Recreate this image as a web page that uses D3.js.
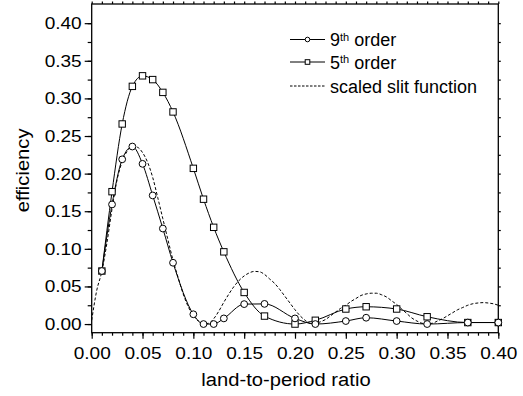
<!DOCTYPE html>
<html>
<head>
<meta charset="utf-8">
<script src="https://cdn.jsdelivr.net/npm/d3@7"></script>
<style>
  html, body { margin: 0; padding: 0; background: #fff; }
  svg { display: block; font-family: "Liberation Sans", Arial, sans-serif; }
</style>
</head>
<body>
<div id="chart"></div>
<script>
// ---------------------------------------------------------------------------
// Data
// ---------------------------------------------------------------------------
const ratio = [0.01, 0.02, 0.03, 0.04, 0.05, 0.06, 0.07, 0.08, 0.10, 0.11, 0.12,
               0.13, 0.15, 0.17, 0.20, 0.22, 0.25, 0.27, 0.30, 0.33, 0.37, 0.40];
const ninthOrder = [0.0705, 0.159, 0.219, 0.236, 0.213, 0.171, 0.127, 0.0815, 0.013, 0.0, 0.0,
                    0.0075, 0.0265, 0.0268, 0.0075, 0.0, 0.004, 0.0084, 0.004, 0.0, 0.002, 0.002];
const fifthOrder = [0.0705, 0.176, 0.266, 0.316, 0.330, 0.325, 0.308, 0.282, 0.207, 0.166, 0.1286,
                    0.096, 0.042, 0.0106, 0.0, 0.005, 0.020, 0.023, 0.020, 0.0097, 0.002, 0.002];

const slitRatio = [0, 0.005, 0.01, 0.015, 0.02, 0.025, 0.03, 0.035, 0.04, 0.045, 0.05, 0.055,
                   0.06, 0.065, 0.07, 0.075, 0.08, 0.085, 0.09, 0.095, 0.10, 0.105, 0.11, 0.115,
                   0.12, 0.125, 0.13, 0.135, 0.14, 0.145, 0.15, 0.155, 0.16, 0.165, 0.17, 0.175,
                   0.18, 0.185, 0.19, 0.195, 0.20, 0.205, 0.21, 0.215, 0.22, 0.225, 0.23, 0.235,
                   0.24, 0.245, 0.25, 0.255, 0.26, 0.265, 0.27, 0.275, 0.28, 0.285, 0.29, 0.295,
                   0.30, 0.305, 0.31, 0.315, 0.32, 0.325, 0.33, 0.335, 0.34, 0.345, 0.35, 0.355,
                   0.36, 0.365, 0.37, 0.375, 0.38, 0.385, 0.39, 0.395, 0.40];
const slitFunction = [0.005, 0.045, 0.07, 0.108, 0.153, 0.192, 0.216, 0.23, 0.236, 0.235, 0.228, 0.215,
                      0.195, 0.168, 0.140, 0.112, 0.085, 0.062, 0.040, 0.023, 0.011, 0.004, 0.0005, 0.001,
                      0.007, 0.017, 0.029, 0.040, 0.050, 0.058, 0.064, 0.068, 0.070, 0.0695, 0.066, 0.060,
                      0.054, 0.046, 0.037, 0.028, 0.019, 0.011, 0.005, 0.001, 0.001, 0.003, 0.006, 0.011,
                      0.016, 0.021, 0.025, 0.030, 0.034, 0.038, 0.040, 0.041, 0.041, 0.039, 0.036, 0.031,
                      0.026, 0.020, 0.014, 0.008, 0.004, 0.001, 0.0005, 0.001, 0.004, 0.007, 0.011, 0.015,
                      0.019, 0.022, 0.025, 0.027, 0.028, 0.0285, 0.028, 0.027, 0.025];

const xMajorTicks = [0, 0.05, 0.10, 0.15, 0.20, 0.25, 0.30, 0.35, 0.40];
const yMajorTicks = [0, 0.05, 0.10, 0.15, 0.20, 0.25, 0.30, 0.35, 0.40];
const xMinorTicks = d3.range(0, 41).map(i => i / 100);
const yMinorTicks = d3.range(0, 17).map(i => i * 0.025);

const xTitle = 'land-to-period ratio';
const yTitle = 'efficiency';

// ---------------------------------------------------------------------------
// Layout
// ---------------------------------------------------------------------------
const W = 523, H = 396;
const margin = { top: 4, right: 24.7, bottom: 63.3, left: 91.7 };
const width = W - margin.left - margin.right;
const height = H - margin.top - margin.bottom;
const TEXT_WIDEN = 1.12;   // the reference font runs wider than Arial

const svg = d3.select('#chart').append('svg')
  .attr('width', W).attr('height', H);

svg.append('rect').attr('width', W).attr('height', H).attr('fill', '#fff');

const g = svg.append('g').attr('transform', `translate(${margin.left},${margin.top})`);

const x = d3.scaleLinear().domain([0, 0.40]).range([0, width]);
const y = d3.scaleLinear().domain([-0.0115, 0.4255]).range([height, 0]);

function widen(sel, k) {
  sel.each(function () {
    const w = this.getComputedTextLength();
    d3.select(this).attr('textLength', w * k).attr('lengthAdjust', 'spacingAndGlyphs');
  });
}

function styleAxis(sel) {
  sel.select('.domain').remove();
  sel.selectAll('line').attr('stroke', '#000').attr('stroke-width', 1.2);
  sel.selectAll('text').attr('fill', '#000');
}

// Minor ticks
g.append('g').attr('transform', `translate(0,${height})`)
  .call(d3.axisBottom(x).tickValues(xMinorTicks).tickSize(3).tickFormat(''))
  .call(styleAxis);
g.append('g')
  .call(d3.axisLeft(y).tickValues(yMinorTicks).tickSize(4).tickFormat(''))
  .call(styleAxis);
g.append('g')
  .call(d3.axisTop(x).tickValues(xMinorTicks).tickSize(2.5).tickFormat(''))
  .call(styleAxis);
g.append('g').attr('transform', `translate(${width},0)`)
  .call(d3.axisRight(y).tickValues(yMinorTicks).tickSize(2.5).tickFormat(''))
  .call(styleAxis);

// Major ticks + labels
const xAxis = g.append('g').attr('transform', `translate(0,${height})`)
  .call(d3.axisBottom(x).tickValues(xMajorTicks).tickSize(6).tickPadding(8)
    .tickFormat(d3.format('.2f')))
  .call(styleAxis);
xAxis.selectAll('text').attr('font-size', '17px').attr('font-family', null);

const yAxis = g.append('g')
  .call(d3.axisLeft(y).tickValues(yMajorTicks).tickSize(7).tickPadding(3)
    .tickFormat(d3.format('.2f')))
  .call(styleAxis);
yAxis.selectAll('text').attr('font-size', '17px').attr('font-family', null);

// Frame
g.append('rect')
  .attr('width', width).attr('height', height)
  .attr('fill', 'none').attr('stroke', '#000').attr('stroke-width', 1.3);

// Axis titles
svg.append('text')
  .attr('class', 'x-title')
  .attr('x', margin.left + width / 2 - 9)
  .attr('y', 386)
  .attr('text-anchor', 'middle')
  .attr('font-size', '18px')
  .text(xTitle);

svg.append('text')
  .attr('class', 'y-title')
  .attr('transform', `translate(29,${margin.top + height / 2 + 2}) rotate(-90)`)
  .attr('text-anchor', 'middle')
  .attr('font-size', '18px')
  .text(yTitle);

// ---------------------------------------------------------------------------
// Series
// ---------------------------------------------------------------------------
const line = d3.line()
  .x(d => x(d[0]))
  .y(d => y(d[1]))
  .curve(d3.curveMonotoneX);

const slitPts = slitRatio.map((r, i) => [r, slitFunction[i]]);
const ninthPts = ratio.map((r, i) => [r, ninthOrder[i]]);
const fifthPts = ratio.map((r, i) => [r, fifthOrder[i]]);

g.append('path').datum(slitPts)
  .attr('d', line)
  .attr('fill', 'none').attr('stroke', '#000').attr('stroke-width', 1)
  .attr('stroke-dasharray', '3,2');

g.append('path').datum(fifthPts)
  .attr('d', line)
  .attr('fill', 'none').attr('stroke', '#000').attr('stroke-width', 1);

g.append('path').datum(ninthPts)
  .attr('d', line)
  .attr('fill', 'none').attr('stroke', '#000').attr('stroke-width', 1);

const sq = 6.4;
g.selectAll('.sq-point')
  .data(fifthPts)
  .join('rect')
  .attr('class', 'sq-point')
  .attr('x', d => x(d[0]) - sq / 2)
  .attr('y', d => y(d[1]) - sq / 2)
  .attr('width', sq).attr('height', sq)
  .attr('fill', '#fff').attr('stroke', '#000').attr('stroke-width', 1);

g.selectAll('.circ-point')
  .data(ninthPts)
  .join('circle')
  .attr('class', 'circ-point')
  .attr('cx', d => x(d[0]))
  .attr('cy', d => y(d[1]))
  .attr('r', 3.4)
  .attr('fill', '#fff').attr('stroke', '#000').attr('stroke-width', 1);

// ---------------------------------------------------------------------------
// Legend
// ---------------------------------------------------------------------------
const legend = svg.append('g').attr('transform', 'translate(290,0)');
const rowY = [39.5, 62, 86];

function legendText(row) {
  return legend.append('text')
    .attr('x', 40).attr('y', rowY[row] + 6.5)
    .attr('font-size', '18px');
}

// 9th order
legend.append('line').attr('x1', 0).attr('x2', 35).attr('y1', rowY[0]).attr('y2', rowY[0])
  .attr('stroke', '#000');
legend.append('circle').attr('cx', 17.5).attr('cy', rowY[0]).attr('r', 2.3)
  .attr('fill', '#fff').attr('stroke', '#000');
let t = legendText(0);
t.append('tspan').text('9');
t.append('tspan').attr('font-size', '11px').attr('dy', -5.5).text('th');
t.append('tspan').attr('dy', 5.5).text(' order');

// 5th order
legend.append('line').attr('x1', 0).attr('x2', 35).attr('y1', rowY[1]).attr('y2', rowY[1])
  .attr('stroke', '#000');
legend.append('rect').attr('x', 17.5 - 2.3).attr('y', rowY[1] - 2.3).attr('width', 4.6).attr('height', 4.6)
  .attr('fill', '#fff').attr('stroke', '#000');
t = legendText(1);
t.append('tspan').text('5');
t.append('tspan').attr('font-size', '11px').attr('dy', -5.5).text('th');
t.append('tspan').attr('dy', 5.5).text(' order');

// scaled slit function
legend.append('line').attr('x1', 0).attr('x2', 35).attr('y1', rowY[2]).attr('y2', rowY[2])
  .attr('stroke', '#000').attr('stroke-dasharray', '2.5,1.5');
legendText(2).text('scaled slit function');

// Wider glyphs like the reference
widen(xAxis.selectAll('text'), TEXT_WIDEN);
widen(yAxis.selectAll('text'), TEXT_WIDEN);
widen(svg.selectAll('.x-title, .y-title'), TEXT_WIDEN);
</script>
</body>
</html>
